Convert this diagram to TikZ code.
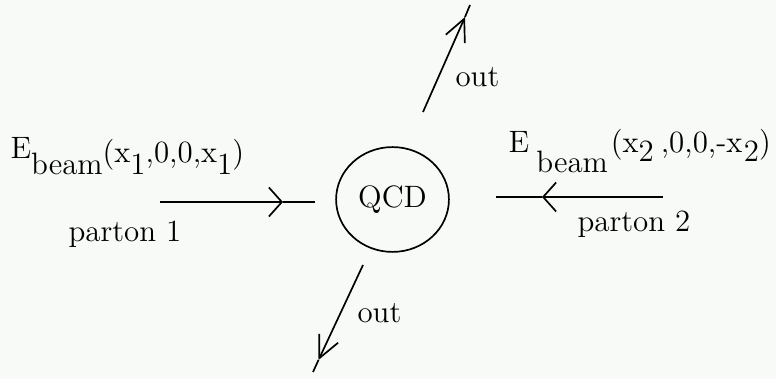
\documentclass[tikz,border=0pt]{standalone}
\usepackage{tikz}
\usetikzlibrary{arrows.meta, shapes.geometric, positioning}
\definecolor{paper}{RGB}{247,250,247}

\begin{document}
\begin{tikzpicture}[
    x=0.0125cm, y=-0.0125cm,
    every node/.style={font=\fontsize{11}{13}\selectfont, inner sep=0pt},
    blob/.style={ellipse, draw, line width=0.6pt, minimum width=1.41cm, minimum height=1.31cm},
    leg/.style={line width=0.6pt},
    inarrow/.style={leg, -{Straight Barb[length=4.6pt, width=10.3pt]}},
    outarrow/.style={leg, -{Straight Barb[length=7.8pt, width=7.4pt]}}
]
    \fill[paper] (0,0) rectangle (776,379);
    \clip (0,0) rectangle (776,379);

    \node[blob] (qcd) at (392.5,199.5) {QCD};

    \node[anchor=base west] (beam1) at (10,159)
        {E\raisebox{-1.2ex}{beam}\raisebox{-0.3ex}{(x\raisebox{-0.9ex}{1},0,0,x\raisebox{-0.9ex}{1})}};
    \node[anchor=base west] (beam2) at (508,153)
        {E\hspace{2.6pt}\raisebox{-1.5ex}{beam}\hspace{1pt}(x\raisebox{-0.67ex}{2}\hspace{2.5pt},0,0,-x\hspace{0.5pt}\raisebox{-0.67ex}{2})};
    \node[anchor=base west] (p1) at (68,242) {parton 1};
    \node[anchor=base west] (p2) at (577,232) {parton 2};
    \node[anchor=base west] (o1) at (455,87) {out};
    \node[anchor=base west] (o2) at (357,323) {out};

    \coordinate (in1s) at (160,202);
    \coordinate (in1m) at (283,202);
    \coordinate (in1e) at (315,202);
    \coordinate (in2s) at (663,197);
    \coordinate (in2m) at (542,197);
    \coordinate (in2e) at (496,197);
    \coordinate (up1s) at (423,112);
    \coordinate (up1m) at (465,17);
    \coordinate (up1e) at (470,5);
    \coordinate (dn1s) at (363,265);
    \coordinate (dn1m) at (318.5,360);
    \coordinate (dn1e) at (313,372);

    \draw[inarrow] (in1s) -- (in1m);
    \draw[leg] (in1m) -- (in1e);
    \draw[inarrow] (in2s) -- (in2m);
    \draw[leg] (in2m) -- (in2e);
    \draw[outarrow] (up1s) -- (up1m);
    \draw[leg] (up1m) -- (up1e);
    \draw[outarrow] (dn1s) -- (dn1m);
    \draw[leg] (dn1m) -- (dn1e);
\end{tikzpicture}
\end{document}
